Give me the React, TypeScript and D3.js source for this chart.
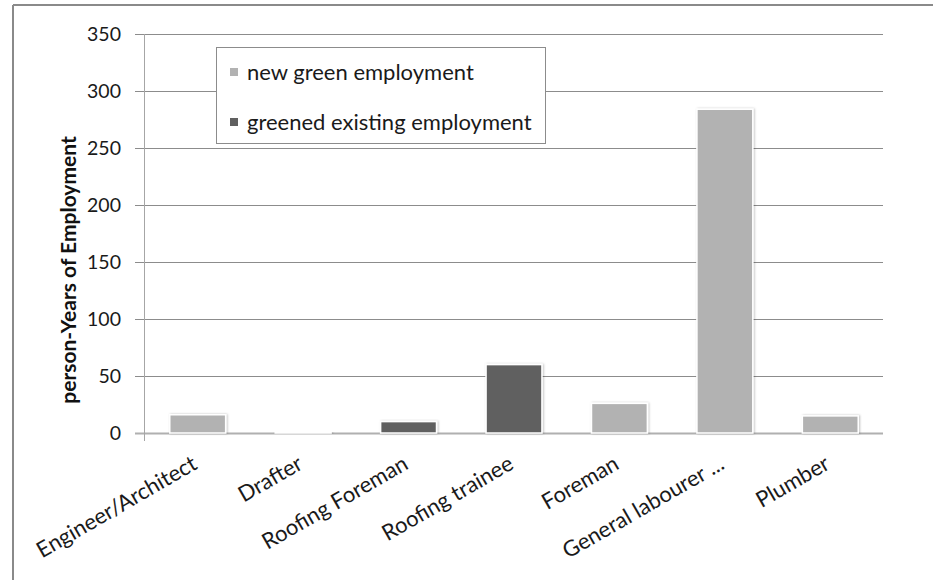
import React from "react";
import * as d3 from "d3";

const categories = ["Engineer/Architect", "Drafter", "Roofing Foreman", "Roofing trainee", "Foreman", "General labourer ...", "Plumber"];
const values = [16, 0.6, 10, 60, 26, 284, 15];
const seriesOf = ["new", "new", "greened", "greened", "new", "new", "new"];
const seriesNames = ["new green employment", "greened existing employment"];
const seriesKeys = ["new", "greened"];
const seriesColors = ["#b2b2b2", "#606060"];
const yTicks = [0, 50, 100, 150, 200, 250, 300, 350];

const W = 933, H = 580;
const plot = { left: 145, right: 883, top: 34, bottom: 433 };
const font = "Lato, 'Liberation Sans', sans-serif";

export default function App() {
  const x = d3.scaleBand<string>().domain(categories).range([plot.left, plot.right]).paddingInner(0.47).paddingOuter(0.235);
  const y = d3.scaleLinear().domain([0, 350]).range([plot.bottom, plot.top]);
  const color = d3.scaleOrdinal<string, string>().domain(seriesKeys).range(seriesColors);
  const band = d3.scaleBand<string>().domain(categories).range([plot.left, plot.right]);

  return (
    <svg width={W} height={H} style={{ position: "absolute", left: 0, top: 0, background: "#fff" }} fontFamily={font}>
      <defs>
        <filter id="sh" x="-20%" y="-20%" width="140%" height="140%">
          <feDropShadow dx="1" dy="0" stdDeviation="1" floodColor="#000" floodOpacity="0.25" />
        </filter>
      </defs>
      {/* outer frame */}
      <line x1={13} x2={W} y1={5} y2={5} stroke="#8a8a8a" strokeWidth={2} />
      <line x1={13} x2={13} y1={5} y2={H} stroke="#8a8a8a" strokeWidth={2} />

      {/* gridlines and ticks */}
      {yTicks.map((t) => (
        <g key={t}>
          <line x1={135} x2={plot.right} y1={Math.round(y(t)) + 0.5} y2={Math.round(y(t)) + 0.5} stroke={t === 0 ? "#b0b0b0" : "#8c8c8c"} strokeWidth={t === 0 ? 2 : 1} />
          <text x={121} y={y(t)} dy="0.36em" textAnchor="end" fontSize={19.5} fill="#1a1a1a">{t}</text>
        </g>
      ))}
      <line x1={plot.left - 0.5} x2={plot.left - 0.5} y1={plot.top} y2={plot.bottom + 8} stroke="#a6a6a6" strokeWidth={1} />

      {/* bars */}
      {categories.map((c, i) => (
        <rect key={c} x={x(c)} y={y(values[i])} width={x.bandwidth()} height={plot.bottom - y(values[i])}
          fill={color(seriesOf[i])} stroke="#fff" strokeWidth={1.5} filter="url(#sh)" />
      ))}

      {/* category labels */}
      {categories.map((c) => {
        const cx = (band(c) as number) + band.bandwidth() / 2 + 1;
        const cy = 468;
        return (
          <text key={c} x={cx} y={cy} textAnchor="end" fontSize={22} fill="#1a1a1a" transform={`rotate(-30 ${cx} ${cy})`}>{c}</text>
        );
      })}

      {/* y-axis title */}
      <text transform={`translate(76, 270) rotate(-90)`} textAnchor="middle" fontSize={21} fontWeight="bold" fill="#111">person-Years of Employment</text>

      {/* legend */}
      <rect x={216.5} y={47.5} width={329} height={96} fill="#fff" stroke="#8c8c8c" strokeWidth={1} />
      {seriesNames.map((n, i) => (
        <g key={n}>
          <rect x={230} y={68 + i * 50} width={8} height={8} fill={seriesColors[i]} />
          <text x={247} y={72 + i * 50} dy="0.36em" fontSize={22} fill="#1a1a1a">{n}</text>
        </g>
      ))}
    </svg>
  );
}
